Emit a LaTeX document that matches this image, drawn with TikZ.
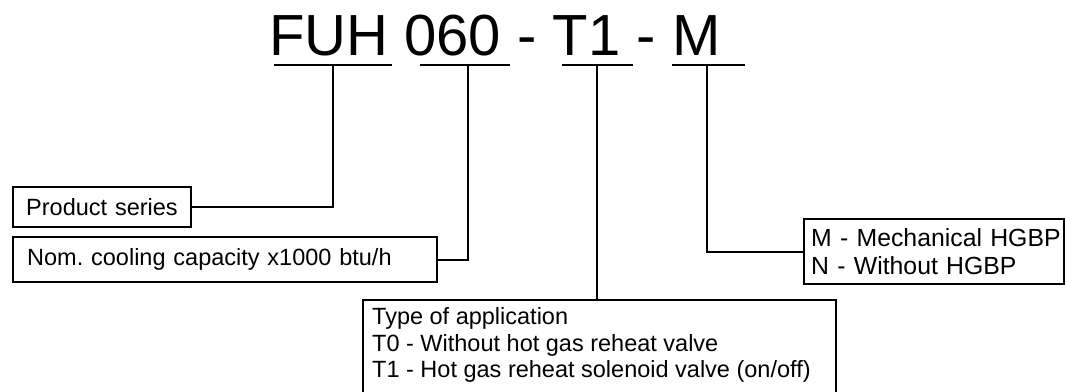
\documentclass[tikz,border=0pt]{standalone}
\usepackage{fontspec}
\setmainfont{Liberation Sans}
\usepackage{tikz}
\usetikzlibrary{positioning}

\begin{document}
\begin{tikzpicture}[x=1pt,y=-1pt,
  box/.style={draw,line width=2.4pt,inner sep=0pt,align=left,
    font=\fontsize{23.5}{27}\selectfont\frenchspacing},
  link/.style={line width=2pt},
  uline/.style={line width=2.6pt}]
  \useasboundingbox (0,0) rectangle (1065,391);
  % model code
  \node[anchor=base west,inner sep=0pt,font=\fontsize{58}{60}\selectfont]
    (code) at (269,55) {FUH 060 - T1 - M};
  \draw[uline] (274,65) -- (392,65);
  \draw[uline] (420,65) -- (510,65);
  \draw[uline] (562,65) -- (633,65);
  \draw[uline] (672,65) -- (745,65);
  \coordinate (cfuh) at (333,65);
  \coordinate (c060) at (468,65);
  \coordinate (ct1) at (597,65);
  \coordinate (cm) at (707,65);
  % explanation boxes
  \node[box,anchor=west,minimum width=178pt,minimum height=40pt,text width=152pt]
    (series) at (12,207) {\mbox{Product series}};
  \node[box,anchor=west,minimum width=424pt,minimum height=45pt,text width=396pt]
    (nom) at (12,259.5) {Nom. cooling capacity x1000 btu/h};
  \node[box,anchor=west,minimum width=260pt,minimum height=65pt,text width=246pt,
    font=\fontsize{24.8}{27.5}\selectfont]
    (mbox) at (803,251.5) {\mbox{M - Mechanical HGBP}\\N - Without HGBP};
  \node[box,anchor=north west,minimum width=473pt,minimum height=120pt]
    (app) at (362,299) {};
  \node[anchor=north west,inner sep=0pt,align=left,
    font=\fontsize{23.5}{26.5}\selectfont]
    (apptext) at ([shift={(10,8.5)}]app.north west)
    {Type of application\\T0 - Without hot gas reheat valve\\T1 - Hot gas reheat solenoid valve (on/off)};
  % connectors
  \draw[link] (cfuh) |- (series.east);
  \draw[link] (c060) |- (nom.east);
  \draw[link] (ct1) -- (ct1 |- app.north);
  \draw[link] (cm) |- (mbox.west);
\end{tikzpicture}
\end{document}
